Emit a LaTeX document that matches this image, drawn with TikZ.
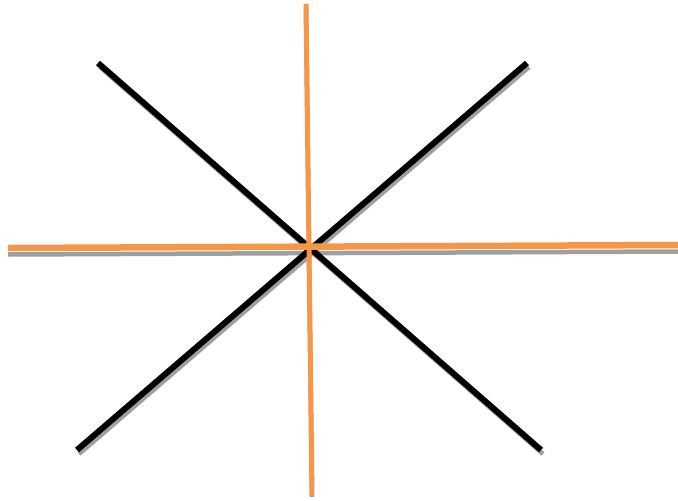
\documentclass[tikz,border=0pt]{standalone}
\usepackage{xcolor}
\definecolor{axisorange}{RGB}{247,150,70}
\usepackage{tikz}
\usetikzlibrary{calc}

\begin{document}
\begin{tikzpicture}[x=1pt, y=-1pt,
  axisline/.style={draw=axisorange, line width=6.5pt},
  diagline/.style={draw=black, line width=6pt},
  shadowline/.style={draw=gray!75, line width=4.5pt}
]
\useasboundingbox (0,0) rectangle (678,501);

% End points
\coordinate (left) at (8,248);
\coordinate (right) at (678,245);
\coordinate (top) at (306,4);
\coordinate (bottom) at (312,495);
\coordinate (tl) at (98,63);
\coordinate (br) at (541,450);
\coordinate (tr) at (527,63);
\coordinate (bl) at (77,450);

% Shadows
\draw[shadowline] ($(left)+(0,6.5)$) -- ($(right)+(0,6.5)$);
\draw[shadowline] ($(top)+(0,4)$) -- ($(bottom)+(0,2)$);
\draw[shadowline] ($(tl)+(2,4)$) -- ($(br)+(2,4)$);
\draw[shadowline] ($(tr)+(2,4)$) -- ($(bl)+(2,4)$);

% Diagonals
\draw[diagline] (tl) -- (br);
\draw[diagline] (tr) -- (bl);

% Axes
\draw[axisline] (left) -- (right);
\draw[axisline, line width=5pt] (top) -- (bottom);

\end{tikzpicture}
\end{document}
